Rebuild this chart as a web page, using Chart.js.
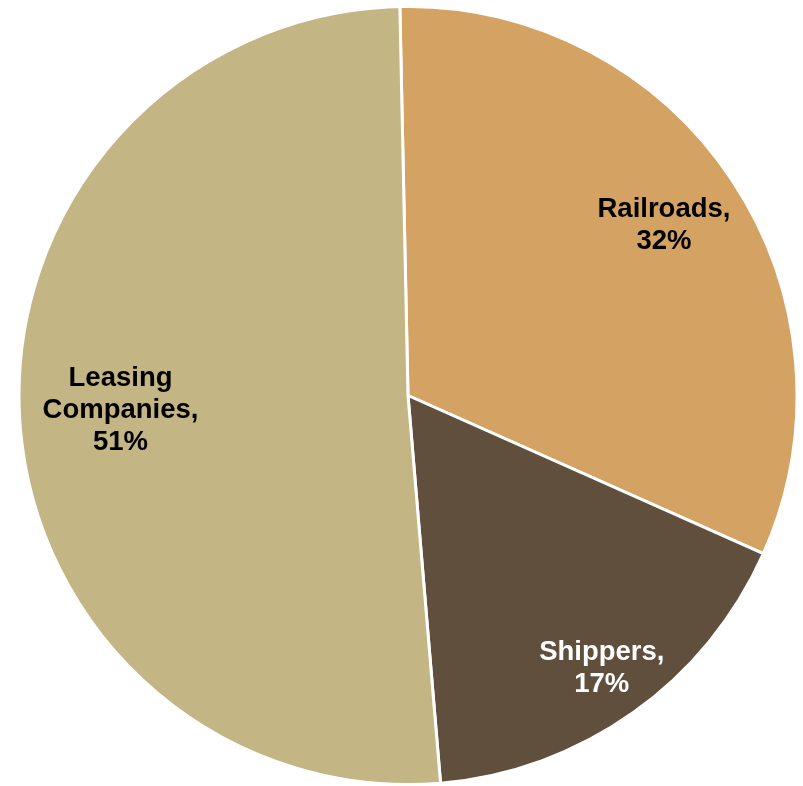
<!DOCTYPE html>
<html>
<head>
<meta charset="utf-8">
<style>
  html, body { margin: 0; padding: 0; background: #fff; }
  #wrap { width: 803px; height: 786px; }
</style>
<script src="https://cdn.jsdelivr.net/npm/chart.js"></script>
</head>
<body>
<div id="wrap"><canvas id="ownerChart" width="803" height="786"></canvas></div>
<script>
const owners = ['Railroads', 'Shippers', 'Leasing Companies'];
const ownerShares = [32, 17, 51];
const shareLabels = [['Railroads,', '32%'], ['Shippers,', '17%'], ['Leasing', 'Companies,', '51%']];

const sliceColors = ['#D4A262', '#614F3D', '#C4B584'];
const labelColors = ['#000000', '#ffffff', '#000000'];
const labelRadius = [0.79, 0.86, 0.74];

// draws the in-slice labels at a fraction of the radius along each slice's middle angle
const sliceLabels = {
    id: 'sliceLabels',
    afterDatasetsDraw(chart) {
        const ctx = chart.ctx;
        const arcs = chart.getDatasetMeta(0).data;
        ctx.save();
        ctx.font = 'bold 27.5px "Liberation Sans", Arial, sans-serif';
        ctx.textAlign = 'center';
        ctx.textBaseline = 'middle';
        arcs.forEach((arc, i) => {
            const mid = (arc.startAngle + arc.endAngle) / 2;
            const r = arc.outerRadius * labelRadius[i];
            const x = arc.x + Math.cos(mid) * r;
            const y = arc.y + Math.sin(mid) * r;
            const lines = shareLabels[i];
            const lh = 32;
            ctx.fillStyle = labelColors[i];
            lines.forEach((t, j) => {
                ctx.fillText(t, x, y + (j - (lines.length - 1) / 2) * lh);
            });
        });
        ctx.restore();
    }
};

new Chart(document.getElementById('ownerChart').getContext('2d'), {
    type: 'pie',
    data: {
        labels: owners,
        datasets: [{
            data: ownerShares,
            backgroundColor: sliceColors,
            borderColor: '#ffffff',
            borderWidth: 3
        }]
    },
    options: {
        responsive: false,
        animation: false,
        rotation: -1.2,
        layout: { padding: { left: 15, right: 2, top: 5, bottom: -3 } },
        plugins: {
            legend: { display: false },
            tooltip: { enabled: false }
        }
    },
    plugins: [sliceLabels]
});
</script>
</body>
</html>
